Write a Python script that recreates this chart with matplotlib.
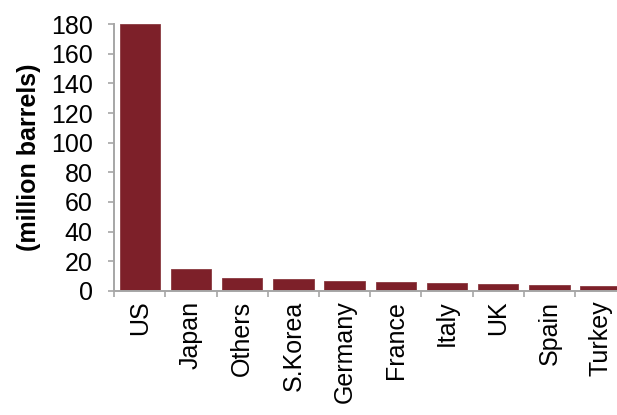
import matplotlib.pyplot as plt
import numpy as np

plt.rcParams['font.family'] = ['Liberation Sans', 'DejaVu Sans']

countries = ['US', 'Japan', 'Others', 'S.Korea', 'Germany', 'France',
             'Italy', 'UK', 'Spain', 'Turkey']
barrels = [180, 15.1, 8.6, 7.7, 7.0, 6.3, 5.2, 4.7, 4.3, 3.4]

fig = plt.figure(figsize=(6.17, 4.15), dpi=100)
ax = fig.add_axes([0.185, 0.299, 0.83, 0.643])

x = np.arange(len(countries))
ax.bar(x, barrels, width=0.79, color='#7d2029', edgecolor='#8a3a40', linewidth=0.6)

ax.set_xlim(-0.5, len(countries) - 0.5)
ax.set_ylim(0, 180)
ax.set_yticks(range(0, 181, 20))
ax.set_xticks(x)
ax.set_xticklabels(countries, rotation=90, fontsize=18)
ax.set_xticks(np.arange(-0.5, len(countries), 1), minor=True)
ax.tick_params(axis='x', which='major', length=0, pad=7)
ax.tick_params(axis='x', which='minor', length=4.5, width=1.2, color='#a6a6a6', direction='out')
ax.tick_params(axis='y', length=4.5, width=1.2, color='#a6a6a6', labelsize=18, pad=11)
ax.set_ylabel('(million barrels)', fontsize=18, fontweight='bold', labelpad=7)

for s in ['top', 'right']:
    ax.spines[s].set_visible(False)
for s in ['left', 'bottom']:
    ax.spines[s].set_color('#a6a6a6')
    ax.spines[s].set_linewidth(1.4)

fig.savefig('out.png', dpi=100)
